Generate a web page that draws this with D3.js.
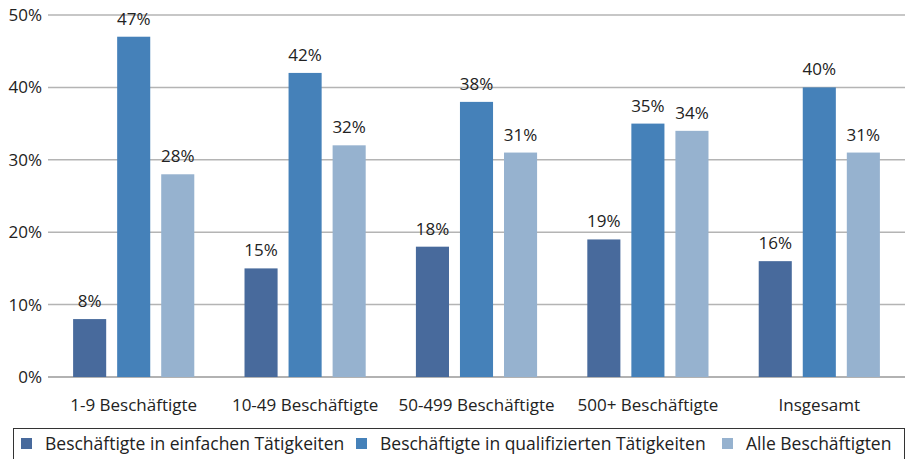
<!DOCTYPE html>
<html>
<head>
<meta charset="utf-8">
<script src="https://cdn.jsdelivr.net/npm/d3@7"></script>
<style>
  body { margin: 0; background: #fff; }
  text { font-family: "Open Sans", Lato, sans-serif; fill: #222; }
</style>
</head>
<body>
<script>
// data
const categories = ["1-9 Beschäftigte", "10-49 Beschäftigte", "50-499 Beschäftigte", "500+ Beschäftigte", "Insgesamt"];
const seriesNames = ["Beschäftigte in einfachen Tätigkeiten", "Beschäftigte in qualifizierten Tätigkeiten", "Alle Beschäftigten"];
const einfach = [8, 15, 18, 19, 16];
const qualifiziert = [47, 42, 38, 35, 40];
const alle = [28, 32, 31, 34, 31];
const yTicks = [0, 10, 20, 30, 40, 50];
const colors = ["#486a9c", "#4581b9", "#96b2cf"];

const series = [einfach, qualifiziert, alle];

const W = 906, H = 459;
const margin = { top: 15, right: 1, bottom: 82, left: 48 };
const width = W - margin.left - margin.right;
const height = H - margin.top - margin.bottom;

const svg = d3.select("body").append("svg")
  .attr("width", W)
  .attr("height", H);

const g = svg.append("g")
  .attr("transform", "translate(" + margin.left + "," + margin.top + ")");

const x = d3.scaleBand().domain(categories).range([0, width]);
const y = d3.scaleLinear().domain([0, 50]).range([height, 0]);

const barW = x.bandwidth() * 0.193;
const step = x.bandwidth() * 0.257;

// gridlines
g.selectAll(".grid")
  .data(yTicks)
  .enter().append("line")
  .attr("x1", 0).attr("x2", width)
  .attr("y1", d => y(d)).attr("y2", d => y(d))
  .attr("stroke", d => d === 0 ? "#999" : "#b4b4b4")
  .attr("stroke-width", 1.5);

// y tick labels
g.selectAll(".ylab")
  .data(yTicks)
  .enter().append("text")
  .attr("x", -6)
  .attr("y", d => y(d))
  .attr("dy", "0.35em")
  .attr("text-anchor", "end")
  .style("font-size", "17px")
  .text(d => d + "%");

// bars
series.forEach((vals, si) => {
  const grp = g.append("g");
  grp.selectAll("rect")
    .data(vals)
    .enter().append("rect")
    .attr("x", (d, i) => x(categories[i]) + x.bandwidth() / 2 + (si - 1) * step - barW / 2)
    .attr("y", d => y(d))
    .attr("width", barW)
    .attr("height", d => height - y(d))
    .attr("fill", colors[si]);

  grp.selectAll("text")
    .data(vals)
    .enter().append("text")
    .attr("x", (d, i) => x(categories[i]) + x.bandwidth() / 2 + (si - 1) * step)
    .attr("y", d => y(d) - 12)
    .attr("text-anchor", "middle")
    .style("font-size", "17px")
    .text(d => d + "%");
});

// category labels
g.selectAll(".xlab")
  .data(categories)
  .enter().append("text")
  .attr("x", d => x(d) + x.bandwidth() / 2)
  .attr("y", height + 34)
  .attr("text-anchor", "middle")
  .style("font-size", "17px")
  .text(d => d);

// legend
svg.append("rect")
  .attr("x", 13.5).attr("y", 428.5)
  .attr("width", 891).attr("height", 40)
  .attr("fill", "none")
  .attr("stroke", "#333")
  .attr("stroke-width", 1);

const legendX = [21, 356, 722];
const leg = svg.selectAll(".leg")
  .data(seriesNames)
  .enter().append("g")
  .attr("transform", (d, i) => "translate(" + legendX[i] + ",0)");

leg.append("rect")
  .attr("x", 0).attr("y", 438)
  .attr("width", 11).attr("height", 11)
  .attr("fill", (d, i) => colors[i]);

leg.append("text")
  .attr("x", 24)
  .attr("y", 450)
  .style("font-size", "17.5px")
  .text(d => d);
</script>
</body>
</html>
